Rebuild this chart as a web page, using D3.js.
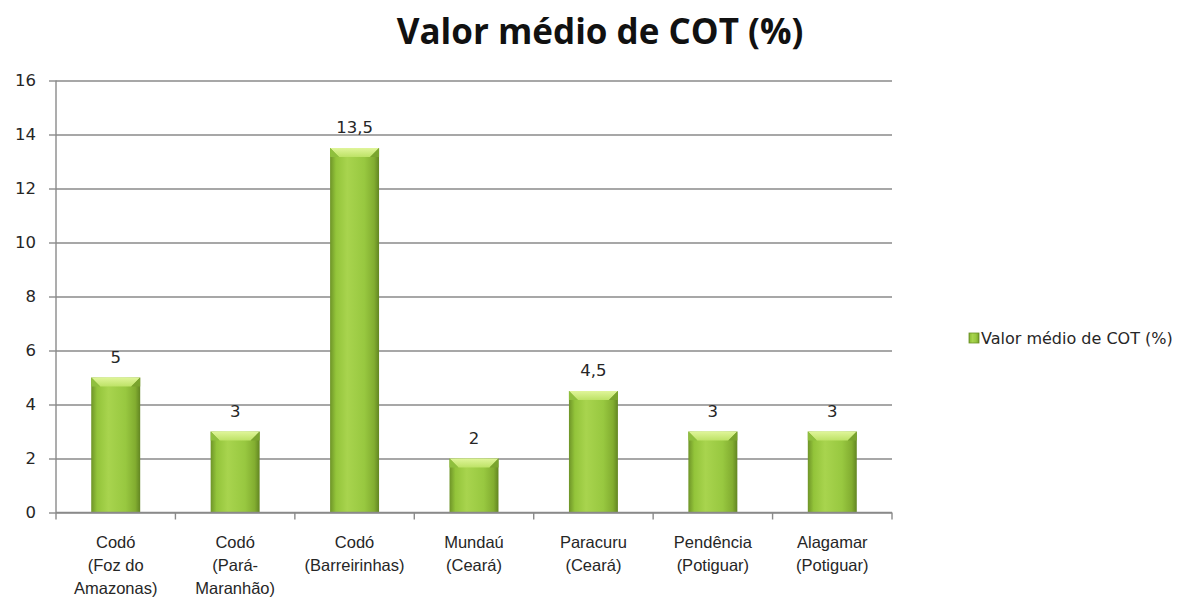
<!DOCTYPE html>
<html>
<head>
<meta charset="utf-8">
<script src="https://cdn.jsdelivr.net/npm/d3@7"></script>
<style>
  body { margin: 0; background: #fff; }
  svg { display: block; }
</style>
</head>
<body>
<svg id="chart-svg" width="1178" height="601"></svg>
<script>
// data
var categories = [
  ["Codó", "(Foz do", "Amazonas)"],
  ["Codó", "(Pará-", "Maranhão)"],
  ["Codó", "(Barreirinhas)"],
  ["Mundaú", "(Ceará)"],
  ["Paracuru", "(Ceará)"],
  ["Pendência", "(Potiguar)"],
  ["Alagamar", "(Potiguar)"]
];
var values = [5, 3, 13.5, 2, 4.5, 3, 3];
var yTicks = [0, 2, 4, 6, 8, 10, 12, 14, 16];
var seriesName = "Valor médio de COT (%)";
var title = "Valor médio de COT (%)";

var svg = d3.select('#chart-svg');

// plot box (don't call these top/left, window.top is read only)
var plotL = 56, plotR = 892, plotT = 80.5, plotB = 512.5;

var keys = categories.map(function(d, i) { return i; });

var xScale = d3.scaleBand()
  .domain(keys)
  .range([plotL, plotR])
  .paddingInner(0.59)
  .paddingOuter(0.295);

var yScale = d3.scaleLinear()
  .domain([0, 16])
  .range([plotB, plotT]);

// gradients for the bevelled bars
var defs = svg.append("defs");
var g1 = defs.append("linearGradient").attr("id", "barGrad")
  .attr("x1", "0").attr("x2", "1").attr("y1", "0").attr("y2", "0");
g1.append("stop").attr("offset", "0").attr("stop-color", "#6e9428");
g1.append("stop").attr("offset", "0.12").attr("stop-color", "#93c43a");
g1.append("stop").attr("offset", "0.35").attr("stop-color", "#a8d44e");
g1.append("stop").attr("offset", "0.7").attr("stop-color", "#98c840");
g1.append("stop").attr("offset", "0.9").attr("stop-color", "#82ad30");
g1.append("stop").attr("offset", "1").attr("stop-color", "#628522");

var g2 = defs.append("linearGradient").attr("id", "topGrad")
  .attr("x1", "0").attr("x2", "0").attr("y1", "0").attr("y2", "1");
g2.append("stop").attr("offset", "0").attr("stop-color", "#e0f59a");
g2.append("stop").attr("offset", "1").attr("stop-color", "#bde266");

// gridlines + y axis
var yAxis = svg.append("g")
  .attr("class", "y axis")
  .attr("transform", "translate(" + plotL + ",0)")
  .call(d3.axisLeft(yScale).tickValues(yTicks).tickSize(7).tickSizeOuter(0).tickPadding(13));
yAxis.select(".domain").remove();
yAxis.selectAll(".tick line").attr("stroke", "#8a8a8a").attr("stroke-width", 1.4);
yAxis.selectAll(".tick")
  .append("line")
  .attr("x1", 0).attr("x2", plotR - plotL)
  .attr("stroke", "#8a8a8a").attr("stroke-width", 1.4);
yAxis.selectAll("text")
  .style("font-family", "DejaVu Sans")
  .style("font-size", "16.5px")
  .style("fill", "#262626");

// bars
var bars = svg.selectAll(".bar").data(values).enter().append("g").attr("class", "bar");

bars.append("rect")
  .attr("x", function(d, i) { return xScale(i); })
  .attr("y", function(d) { return yScale(d); })
  .attr("width", xScale.bandwidth())
  .attr("height", function(d) { return yScale(0) - yScale(d); })
  .attr("fill", "url(#barGrad)");

// top bevel
var bev = 9;
bars.append("path")
  .attr("d", function(d, i) {
    var x0 = xScale(i), x1 = x0 + xScale.bandwidth(), y0 = yScale(d);
    return "M" + x0 + "," + y0 + "L" + x1 + "," + y0 +
      "L" + (x1 - bev) + "," + (y0 + bev) + "L" + (x0 + bev) + "," + (y0 + bev) + "Z";
  })
  .attr("fill", "url(#topGrad)");

// darker edges on the sides of the bevel
bars.append("path")
  .attr("d", function(d, i) {
    var x0 = xScale(i), y0 = yScale(d);
    return "M" + x0 + "," + y0 + "L" + (x0 + bev) + "," + (y0 + bev) + "L" + x0 + "," + (y0 + bev) + "Z";
  })
  .attr("fill", "#8fbf3e");
bars.append("path")
  .attr("d", function(d, i) {
    var x1 = xScale(i) + xScale.bandwidth(), y0 = yScale(d);
    return "M" + x1 + "," + y0 + "L" + (x1 - bev) + "," + (y0 + bev) + "L" + x1 + "," + (y0 + bev) + "Z";
  })
  .attr("fill", "#7aa42e");

// value labels
bars.append("text")
  .attr("x", function(d, i) { return xScale(i) + xScale.bandwidth() / 2; })
  .attr("y", function(d) { return yScale(d) - 15; })
  .attr("text-anchor", "middle")
  .style("font-family", "DejaVu Sans")
  .style("font-size", "16.5px")
  .style("fill", "#262626")
  .text(function(d) { return String(d).replace(".", ","); });

// x axis line and ticks at category boundaries
var xAxis = svg.append("g").attr("class", "x axis");
xAxis.append("line")
  .attr("x1", plotL).attr("x2", plotR)
  .attr("y1", yScale(0)).attr("y2", yScale(0))
  .attr("stroke", "#8a8a8a").attr("stroke-width", 1.4);
xAxis.append("line")
  .attr("x1", plotL).attr("x2", plotL)
  .attr("y1", yScale(16)).attr("y2", yScale(0) + 7)
  .attr("stroke", "#8a8a8a").attr("stroke-width", 1.4);
var bounds = d3.range(1, categories.length + 1).map(function(i) { return plotL + i * xScale.step(); });
xAxis.selectAll(".xtick").data(bounds).enter().append("line")
  .attr("class", "xtick")
  .attr("x1", function(d) { return d; }).attr("x2", function(d) { return d; })
  .attr("y1", yScale(0)).attr("y2", yScale(0) + 7)
  .attr("stroke", "#8a8a8a").attr("stroke-width", 1.4);

// category labels
var cat = xAxis.selectAll(".cat").data(categories).enter().append("text")
  .attr("class", "cat")
  .attr("text-anchor", "middle")
  .style("font-family", "Liberation Sans")
  .style("font-size", "16.5px")
  .style("fill", "#262626");
cat.selectAll("tspan").data(function(d, i) { return d.map(function(s) { return { s: s, i: i }; }); })
  .enter().append("tspan")
  .attr("x", function(d) { return xScale(d.i) + xScale.bandwidth() / 2; })
  .attr("y", function(d, j) { return 548 + j * 23; })
  .text(function(d) { return d.s; });

// title
svg.append("text")
  .attr("x", 600)
  .attr("y", 44)
  .attr("text-anchor", "middle")
  .style("font-family", "Open Sans")
  .style("font-weight", "bold")
  .style("font-size", "35px")
  .style("fill", "#111")
  .text(title);

// legend
var legend = svg.append("g").attr("class", "legend");
legend.append("rect")
  .attr("x", 969).attr("y", 333).attr("width", 10).attr("height", 10)
  .attr("fill", "url(#barGrad)").attr("stroke", "#6c9226").attr("stroke-width", 0.8);
legend.append("text")
  .attr("x", 981).attr("y", 344)
  .style("font-family", "DejaVu Sans")
  .style("font-size", "16px")
  .style("fill", "#262626")
  .text(seriesName);
</script>
</body>
</html>
